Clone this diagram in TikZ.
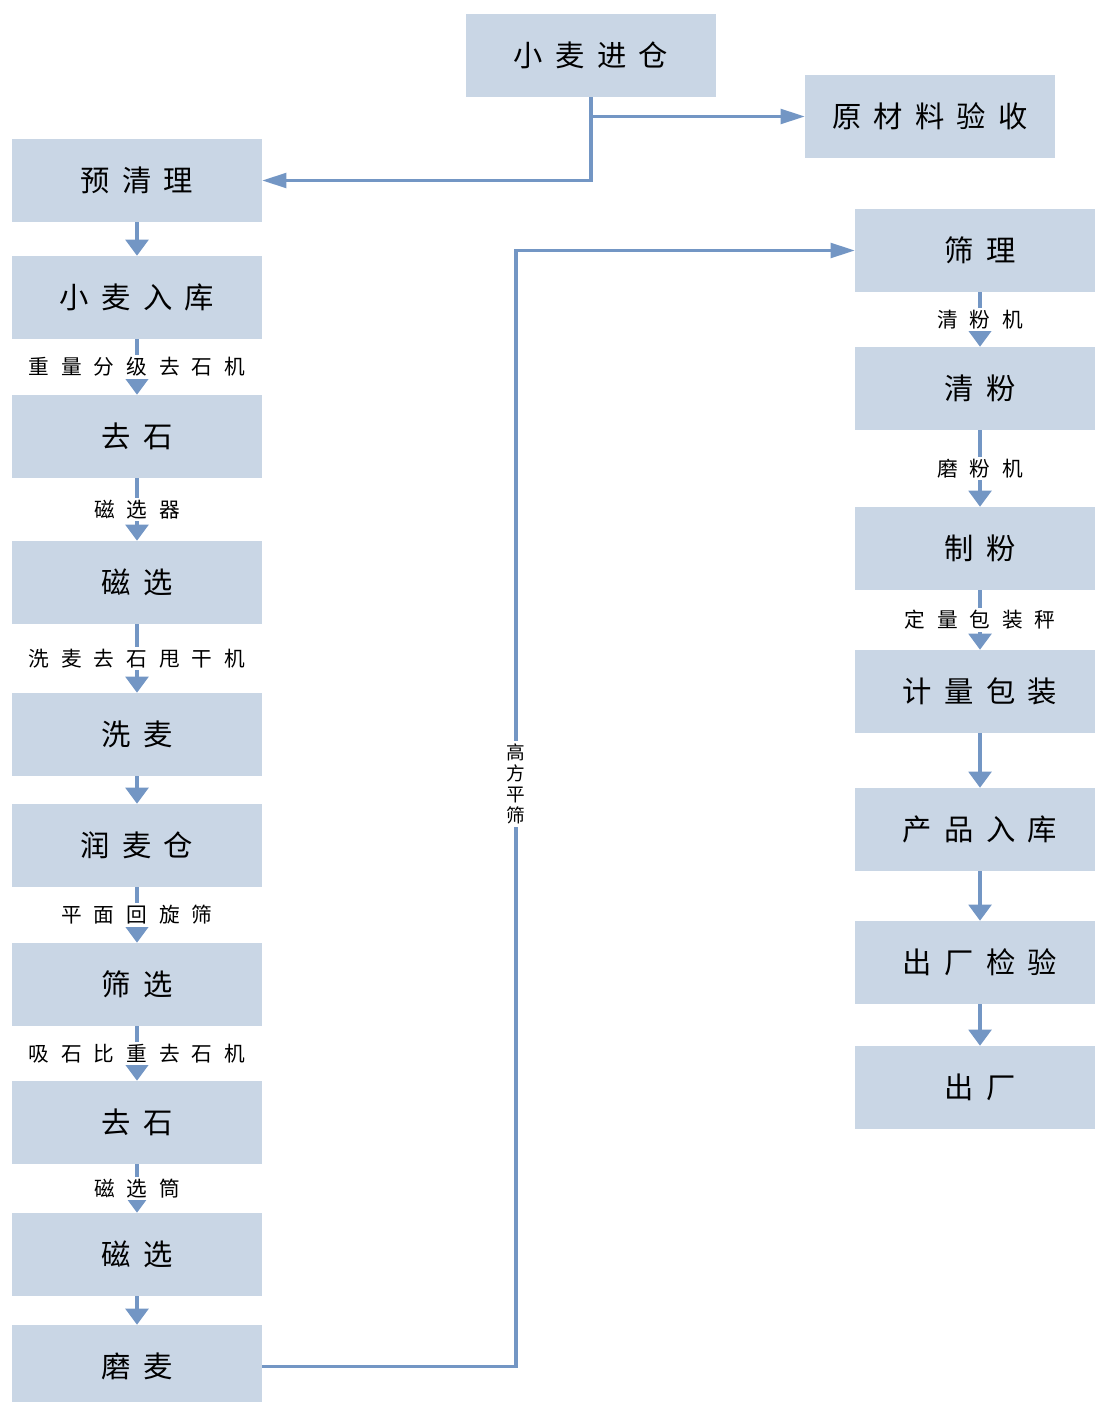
\documentclass[tikz,border=0pt]{standalone}
\usepackage{fontspec}
\usetikzlibrary{arrows.meta}
\newfontfamily\cjkbox[LetterSpace=42]{Noto Sans CJK SC}
\newfontfamily\cjklbl[LetterSpace=58]{Noto Sans CJK SC}
\newfontfamily\cjkv{Noto Sans CJK SC}
\definecolor{boxfill}{RGB}{201,214,229}
\definecolor{linec}{RGB}{115,150,196}
\tikzset{
  procbox/.style={fill=boxfill, draw=none, minimum width=187.5pt, minimum height=62.25pt, inner sep=0pt,
    font=\cjkbox\fontsize{22}{24}\selectfont},
  conn/.style={draw=linec, line width=2.4pt},
  varr/.style={conn, -{Triangle[width=17pt,length=12pt]}},
  harr/.style={conn, -{Triangle[width=11pt,length=18pt]}},
  elbl/.style={fill=white, inner sep=1.5pt, font=\cjklbl\fontsize{15.5}{17}\selectfont},
  vlbl/.style={fill=white, inner sep=2pt, align=center, font=\cjkv\fontsize{14}{15.8}\selectfont}
}
\begin{document}
\begin{tikzpicture}[x=0.75pt, y=-0.75pt]
\useasboundingbox (0,0) rectangle (1095,1402);
% top
\node[procbox] (jc) at (591,55.5) {小麦进仓};
\node[procbox] (ys) at (930,116.5) {原材料验收};
% left column
\node[procbox] (yql) at (137,180.5) {预清理};
\node[procbox] (rk) at (137,297.5) {小麦入库};
\node[procbox] (qs1) at (137,436.5) {去石};
\node[procbox] (cx1) at (137,582.5) {磁选};
\node[procbox] (xm) at (137,734.5) {洗麦};
\node[procbox] (rmc) at (137,845.5) {润麦仓};
\node[procbox] (sx) at (137,984.5) {筛选};
\node[procbox] (qs2) at (137,1122.5) {去石};
\node[procbox] (cx2) at (137,1254.5) {磁选};
\node[procbox] (mm) at (137,1366.5) {磨麦};
% right column
\node[procbox] (sl) at (980,250.5) {筛理};
\node[procbox] (qf) at (980,388.5) {清粉};
\node[procbox] (zf) at (980,548.5) {制粉};
\node[procbox] (bz) at (980,691.5) {计量包装};
\node[procbox] (cprk) at (980,829.5) {产品入库};
\node[procbox] (jy) at (980,962.5) {出厂检验};
\node[procbox] (cc) at (980,1087.5) {出厂};
% top connectors
\draw[harr] (jc.south) |- (yql.east);
\draw[harr] (jc.south |- ys.west) -- (ys.west);
% left chain
\draw[varr] (yql) -- (rk);
\draw[varr] (rk) -- (qs1) node[elbl, midway] {重量分级去石机};
\draw[varr] (qs1) -- (cx1) node[elbl, midway] {磁选器};
\draw[varr] (cx1) -- (xm) node[elbl, midway] {洗麦去石甩干机};
\draw[varr] (xm) -- (rmc);
\draw[varr] (rmc) -- (sx) node[elbl, midway] {平面回旋筛};
\draw[varr] (sx) -- (qs2) node[elbl, midway] {吸石比重去石机};
\draw[varr] (qs2) -- (cx2) node[elbl, midway] {磁选筒};
\draw[varr] (cx2) -- (mm);
% long connector
\coordinate (turn) at (516,0);
\draw[harr] (mm.east) -| (turn |- sl.west) -- (sl.west);
\node[vlbl] (gfps) at (516,784) {高\\方\\平\\筛};
% right chain
\draw[varr] (sl) -- (qf) node[elbl, midway] {清粉机};
\draw[varr] (qf) -- (zf) node[elbl, midway] {磨粉机};
\draw[varr] (zf) -- (bz) node[elbl, midway] {定量包装秤};
\draw[varr] (bz) -- (cprk);
\draw[varr] (cprk) -- (jy);
\draw[varr] (jy) -- (cc);
\end{tikzpicture}
\end{document}
